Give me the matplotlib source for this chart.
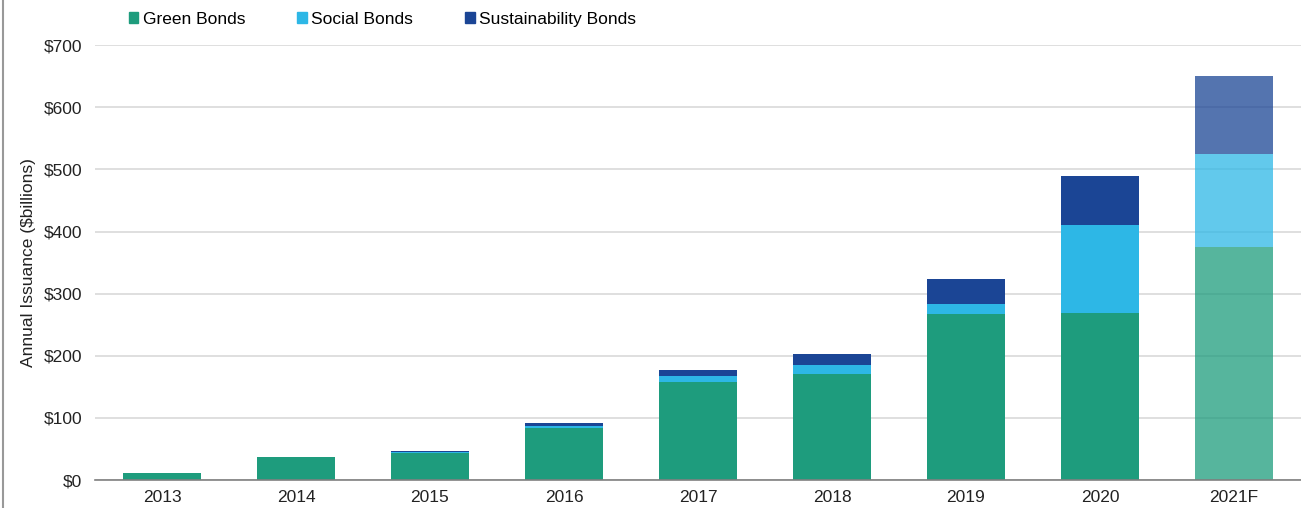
import numpy as np
import matplotlib.pyplot as plt
from matplotlib.patches import Patch

years = ['2013', '2014', '2015', '2016', '2017', '2018', '2019', '2020', '2021F']
green = [12, 37, 44, 83, 158, 171, 267, 269, 375]
social = [0, 0, 1, 3.5, 10, 14, 17, 142, 150]
sustain = [0, 0, 2, 6, 9, 18, 39, 79, 125]

c_green = '#1E9C7D'
c_social = '#2DB7E6'
c_sustain = '#1B4595'

plt.rcParams['font.family'] = ['Liberation Sans', 'DejaVu Sans']

fig = plt.figure(figsize=(13.01, 5.08), dpi=100)
ax = fig.add_axes([0.073, 0.055, 0.927, 0.856])

x = np.arange(len(years))
width = 0.575
green = np.array(green)
social = np.array(social)
sustain = np.array(sustain)
alphas = [1.0] * (len(years) - 1) + [0.75]

for i in range(len(years)):
    a = alphas[i]
    ax.bar(x[i], green[i], width, color=c_green, alpha=a, zorder=3)
    ax.bar(x[i], social[i], width, bottom=green[i], color=c_social, alpha=a, zorder=3)
    ax.bar(x[i], sustain[i], width, bottom=green[i] + social[i], color=c_sustain, alpha=a, zorder=3)

fs = 12.5
ax.set_xlim(-0.5, 8.5)
ax.set_ylim(0, 700)
ax.set_yticks(np.arange(0, 701, 100))
ax.set_yticklabels(['$' + str(v) for v in range(0, 701, 100)])
ax.set_xticks(x)
ax.set_xticklabels(years)
ax.tick_params(length=0, labelsize=fs, colors='#222222', pad=7)
ax.tick_params(axis='y', pad=9)
ax.grid(axis='y', color='#D9D9D9', linewidth=1.2, zorder=0)
for s in ['top', 'right', 'left']:
    ax.spines[s].set_visible(False)
ax.spines['bottom'].set_color('#808080')
ax.spines['bottom'].set_linewidth(1.2)
ax.spines['bottom'].set_zorder(4)
ax.set_ylabel('Annual Issuance ($billions)', fontsize=fs, color='#222222')
ax.yaxis.set_label_coords(-0.049, 0.5)

handles = [Patch(color=c_green), Patch(color=c_social), Patch(color=c_sustain)]
fig.legend(handles, ['Green Bonds', 'Social Bonds', 'Sustainability Bonds'],
           loc='center left', bbox_to_anchor=(0.099, 0.962), ncol=3, frameon=False,
           fontsize=fs, handlelength=0.55, handleheight=0.55, handletextpad=0.25,
           columnspacing=3.0, borderpad=0, borderaxespad=0)

fig.add_artist(plt.Line2D([0.002, 0.002], [0, 1], color='#999999', linewidth=1.5))

fig.savefig('out.png', dpi=100)
